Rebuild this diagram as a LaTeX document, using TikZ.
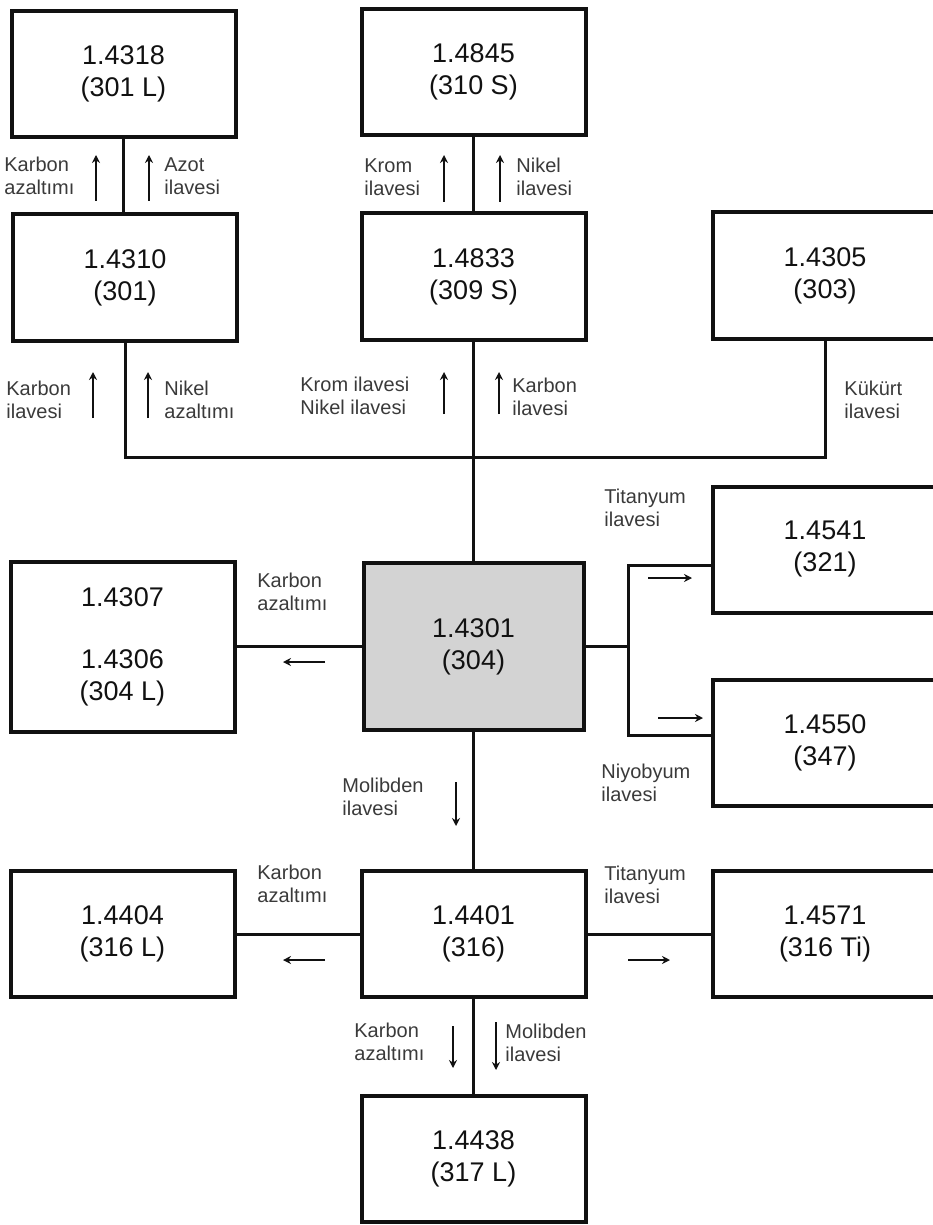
\documentclass[tikz,border=0pt]{standalone}
\usepackage{fontspec}
\setmainfont{Liberation Sans}
\usetikzlibrary{arrows.meta,positioning}
\definecolor{cInk}{HTML}{111111}
\definecolor{cLbl}{HTML}{3A3A3A}
\definecolor{cCore}{HTML}{D3D3D3}
\tikzset{
  >=Stealth,
  box/.style ={draw=cInk,line width=2pt,minimum width=112pt,minimum height=63pt,
               align=center,text=cInk,inner sep=0pt,font=\fontsize{13.5}{16}\selectfont},
  rbox/.style={box,minimum width=112pt},
  core/.style={box,fill=cCore,minimum width=110pt,minimum height=83.5pt},
  wire/.style={line width=1.5pt,cInk},
  ind/.style ={-{Stealth[length=4pt,width=4pt]},line width=1.3pt,cInk},
  lbl/.style ={font=\fontsize{10}{11.5}\selectfont,text=cLbl,align=left,
               anchor=west,inner sep=0pt},
}
\begin{document}
\begin{tikzpicture}[x=0.5pt,y=-0.5pt]
\useasboundingbox (0,0) rectangle (932,1225);

% boxes
\node[box]  (b4318) at (123.5,74)   {1.4318\\(301 L)};
\node[box]  (b4845) at (473.5,72)   {1.4845\\(310 S)};
\node[box]  (b4310) at (125,277.5)  {1.4310\\(301)};
\node[box]  (b4833) at (473.5,276.5){1.4833\\(309 S)};
\node[rbox] (b4305) at (825,275.5)  {1.4305\\(303)};
\node[core] (b4301) at (473.5,646.5){1.4301\\(304)};
\node[box,minimum height=85pt] (b4307) at (122.5,647) {1.4307\\[15pt]1.4306\\(304 L)};
\node[rbox] (b4541) at (825,549.5)  {1.4541\\(321)};
\node[rbox] (b4550) at (825,742.5)  {1.4550\\(347)};
\node[box]  (b4401) at (473.5,934)  {1.4401\\(316)};
\node[box]  (b4404) at (122.5,934)  {1.4404\\(316 L)};
\node[rbox] (b4571) at (825,934)    {1.4571\\(316 Ti)};
\node[box]  (b4438) at (473.5,1158.5){1.4438\\(317 L)};

% wires
\coordinate (bus)   at (473.5,457);
\coordinate (forkT) at (628,565);
\coordinate (forkB) at (628,735);
\draw[wire] (b4318.south) -- (b4318.south |- b4310.north);
\draw[wire] (b4845.south) -- (b4833.north);
\draw[wire] (b4310.south) |- (bus) -| (b4305.south);
\draw[wire] (b4833.south) -- (b4301.north);
\draw[wire] (b4301.west) -- (b4307.east |- b4301.west);
\draw[wire] (b4301.east) -- (b4301.east -| forkT);
\draw[wire] (b4541.west |- forkT) -- (forkT) -- (forkB) -- (b4550.west |- forkB);
\draw[wire] (b4301.south) -- (b4401.north);
\draw[wire] (b4401.west) -- (b4404.east);
\draw[wire] (b4401.east) -- (b4571.west);
\draw[wire] (b4401.south) -- (b4438.north);

% labels and direction arrows
\node[lbl] (lCaz1) at (4,176)   {Karbon\\azaltımı};
\draw[ind] (96,201) -- (96,155);
\draw[ind] (149,201) -- (149,155);
\node[lbl] (lAzot) at (164,176) {Azot\\ilavesi};

\node[lbl] (lKrom1) at (364,177) {Krom\\ilavesi};
\draw[ind] (444,202) -- (444,155);
\draw[ind] (500,202) -- (500,155);
\node[lbl] (lNik1) at (516,177)  {Nikel\\ilavesi};

\node[lbl] (lCil1) at (6,400)   {Karbon\\ilavesi};
\draw[ind] (93,418) -- (93,372);
\draw[ind] (148,418) -- (148,372);
\node[lbl] (lNaz) at (164,400)  {Nikel\\azaltımı};

\node[lbl] (lKrNi) at (300,396) {Krom ilavesi\\Nikel ilavesi};
\draw[ind] (444,414) -- (444,372);
\draw[ind] (499,414) -- (499,372);
\node[lbl] (lCil2) at (512,397) {Karbon\\ilavesi};

\node[lbl] (lKuk) at (844,400)  {Kükürt\\ilavesi};

\node[lbl] (lTi1) at (604,508)  {Titanyum\\ilavesi};
\draw[ind] (648,578) -- (692,578);
\draw[ind] (658,718) -- (703,718);
\node[lbl] (lNb) at (601,783)   {Niyobyum\\ilavesi};

\node[lbl] (lCaz2) at (257,592) {Karbon\\azaltımı};
\draw[ind] (325,662) -- (283,662);

\node[lbl] (lMo1) at (342,797)  {Molibden\\ilavesi};
\draw[ind] (456,782) -- (456,826);

\node[lbl] (lCaz3) at (257,884) {Karbon\\azaltımı};
\draw[ind] (325,960) -- (283,960);
\node[lbl] (lTi2) at (604,885)  {Titanyum\\ilavesi};
\draw[ind] (628,960) -- (670,960);

\node[lbl] (lCaz4) at (354,1042) {Karbon\\azaltımı};
\draw[ind] (453,1026) -- (453,1068);
\draw[ind] (496,1022) -- (496,1070);
\node[lbl] (lMo2) at (505,1043)  {Molibden\\ilavesi};
\end{tikzpicture}
\end{document}
